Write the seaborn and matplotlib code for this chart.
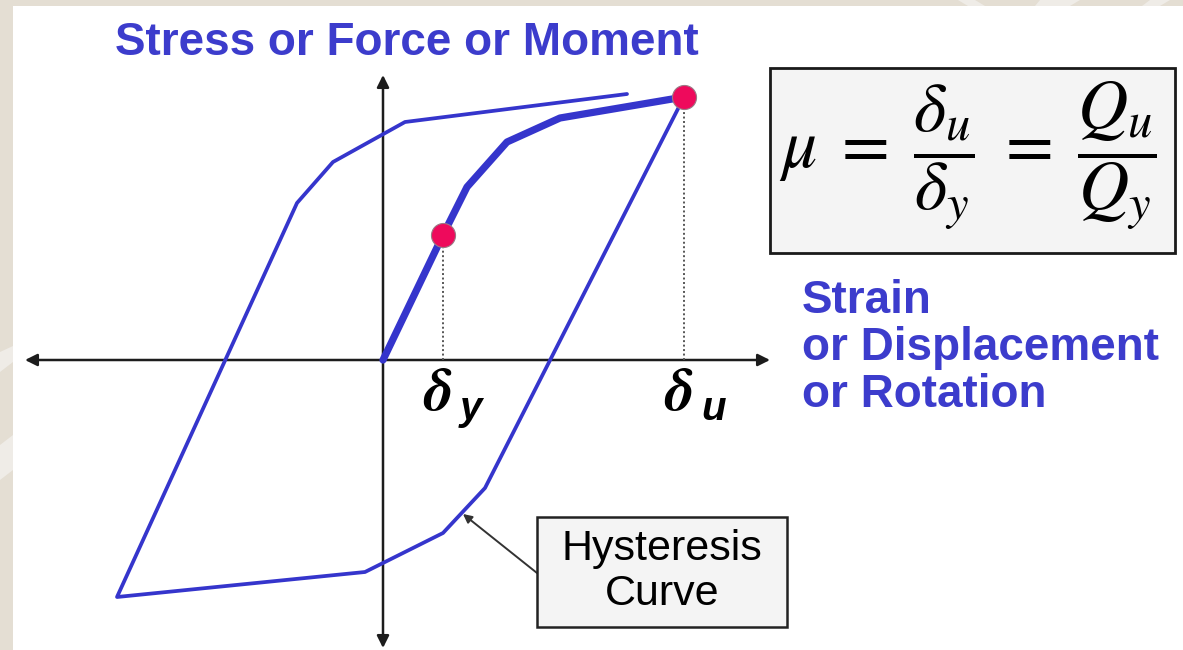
import matplotlib
matplotlib.use("Agg")
import matplotlib.pyplot as plt
from matplotlib.patches import Rectangle, Polygon
import seaborn as sns

# Hysteresis loop (displacement, force), traced from the ultimate point around one cycle
loop_disp = [3.01, 1.02, 0.60, -0.18, -2.66, -0.86, -0.50, 0.22, 2.44]
loop_force = [2.63, -1.28, -1.73, -2.12, -2.37, 1.57, 1.98, 2.38, 2.66]

# Monotonic backbone curve from the origin to the ultimate point
backbone_disp = [0.00, 0.60, 0.84, 1.24, 1.77, 3.01]
backbone_force = [0.00, 1.25, 1.73, 2.18, 2.42, 2.63]

# Yield and ultimate points
point_names = ["y", "u"]
point_disp = [0.60, 3.01]
point_force = [1.25, 2.63]

y_label = "Stress or Force or Moment"
x_label_lines = ["Strain", "or Displacement", "or Rotation"]
curve_note_lines = ["Hysteresis", "Curve"]
ductility = r"$\mu\;=\;\dfrac{\delta_u}{\delta_y}\;=\;\dfrac{Q_u}{Q_y}$"

BLUE = "#3535CC"
TEXT_BLUE = "#3C3CCC"
DOT = "#EE0A5C"

sns.set_theme(style="white")
plt.rcParams["font.family"] = ["Liberation Sans", "DejaVu Sans"]
plt.rcParams["mathtext.fontset"] = "stix"

W, H = 1183, 650
fig = plt.figure(figsize=(W / 100, H / 100), dpi=100)
fig.patch.set_facecolor("#E4DED3")


def fx(px):
    return px / W


def fy(py):
    return 1 - py / H


# faint diagonal streaks in the frame
for pts in ([(0, 352), (13, 346), (13, 362), (0, 372)],
            [(0, 445), (13, 435), (13, 470), (0, 480)],
            [(958, 0), (975, 0), (985, 6), (968, 6)],
            [(1040, 0), (1080, 0), (1070, 6), (1035, 6)],
            [(1150, 0), (1170, 0), (1160, 6), (1142, 6)]):
    fig.add_artist(Polygon([(fx(a), fy(b)) for a, b in pts], closed=True,
                           transform=fig.transFigure, facecolor="#EFECE7",
                           edgecolor="none"))

ax = fig.add_axes([13 / W, 0, 1 - 13 / W, 1 - 6 / H])
ax.set_facecolor("white")
ax.set_xlim(-3.70, 8.00)
ax.set_ylim(-2.90, 3.54)
ax.set_xticks([])
ax.set_yticks([])
for s in ax.spines.values():
    s.set_visible(False)

# coordinate axes with arrowheads at both ends
arrow_kw = dict(arrowstyle="<|-|>", color="#1c1c1c", lw=1.8,
                mutation_scale=18, shrinkA=0, shrinkB=0)
ax.annotate("", xy=(3.87, 0), xytext=(-3.58, 0), arrowprops=arrow_kw, zorder=2)
ax.annotate("", xy=(0, 2.85), xytext=(0, -2.88), arrowprops=arrow_kw, zorder=2)

# drop lines from the marked points
ax.vlines(point_disp, 0, point_force, colors="#555555",
          linestyles=(0, (1, 1.3)), lw=1.4, zorder=2)

sns.lineplot(x=loop_disp, y=loop_force, sort=False, estimator=None,
             color=BLUE, lw=2.7, ax=ax, zorder=3)
sns.lineplot(x=backbone_disp, y=backbone_force, sort=False, estimator=None,
             color=BLUE, lw=5.2, ax=ax, zorder=4)
sns.scatterplot(x=point_disp, y=point_force, s=300, color=DOT,
                edgecolor="#9a7a85", linewidth=0.8, ax=ax, zorder=5)

# delta labels under the horizontal axis
for name, x in zip(point_names, point_disp):
    ax.annotate("δ", xy=(x, 0), xytext=(-20, -50), textcoords="offset pixels",
                ha="left", va="baseline", fontsize=43, fontweight="bold",
                fontstyle="italic", family=["STIXGeneral", "DejaVu Serif"],
                color="black")
    ax.annotate(name, xy=(x, 0), xytext=(17, -60), textcoords="offset pixels",
                ha="left", va="baseline", fontsize=29, fontweight="bold",
                fontstyle="italic", color="black")

# axis titles
fig.text(fx(115), fy(55), y_label, ha="left", va="baseline", fontsize=33,
         fontweight="bold", color=TEXT_BLUE)
for i, line in enumerate(x_label_lines):
    fig.text(fx(802), fy(313 + 47 * i), line, ha="left", va="baseline",
             fontsize=33, fontweight="bold", color=TEXT_BLUE)

# ductility ratio box
fig.add_artist(Rectangle((fx(770), fy(253)), fx(405), 185 / H,
                         transform=fig.transFigure, facecolor="#F4F4F4",
                         edgecolor="#1a1a1a", lw=2))
fig.text(fx(968), fy(156), ductility, ha="center", va="center",
         fontsize=50, color="black")

# curve annotation box
fig.add_artist(Rectangle((fx(537), fy(627)), fx(250), 110 / H,
                         transform=fig.transFigure, facecolor="#F4F4F4",
                         edgecolor="#222222", lw=1.8))
for i, line in enumerate(curve_note_lines):
    fig.text(fx(662), fy(560 + 45 * i), line, ha="center", va="baseline",
             fontsize=31, color="black")
ax.annotate("", xy=(fx(463), fy(514)), xycoords="figure fraction",
            xytext=(fx(537), fy(573)), textcoords="figure fraction",
            arrowprops=dict(arrowstyle="-|>", color="#333333", lw=1.4,
                            mutation_scale=13, shrinkA=0, shrinkB=0))

fig.savefig("out.png", dpi=100, facecolor=fig.get_facecolor())
